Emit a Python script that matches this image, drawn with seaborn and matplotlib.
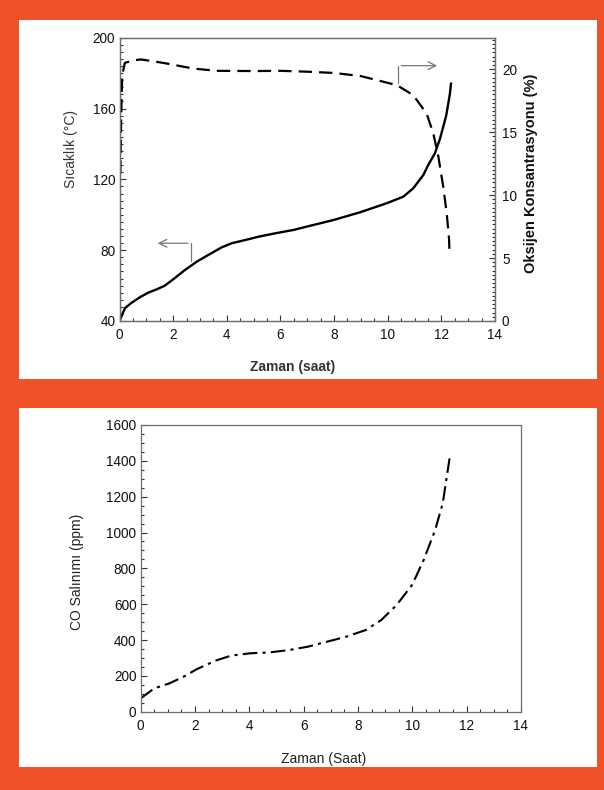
import matplotlib
matplotlib.use("Agg")
import matplotlib.pyplot as plt
from matplotlib.patches import Rectangle
from matplotlib.ticker import MultipleLocator
import seaborn as sns
import numpy as np

# ---- data ----
temp_time = [0, 0.2, 0.45, 0.76, 1.07, 1.39, 1.67, 2.0, 2.44, 2.88, 3.31, 3.81, 4.18,
             4.68, 5.18, 5.8, 6.48, 6.98, 7.97, 8.97, 9.96, 10.58, 10.95, 11.33, 11.51,
             11.76, 11.95, 12.07, 12.18, 12.26, 12.32, 12.36]
temp_vals = [40, 47.2, 50.3, 53.4, 56.0, 57.9, 59.8, 63.5, 68.8, 73.5, 77.3, 81.6, 83.9,
             85.7, 87.6, 89.5, 91.4, 93.3, 97.0, 101.4, 106.5, 110.2, 114.9, 122.5, 128.1,
             134.7, 143.0, 149.7, 156.0, 163.0, 168.5, 174.2]

o2_time = [0.03, 0.06, 0.1, 0.2, 0.5, 0.8, 1.2, 1.76, 2.75, 3.62, 5, 6, 7, 8, 9,
           9.71, 10.34, 10.95, 11.45, 11.7, 11.89, 12.07, 12.2, 12.29, 12.3]
o2_vals = [11.7, 16.0, 19.5, 20.5, 20.7, 20.77, 20.65, 20.45, 20.05, 19.87, 19.85, 19.87,
           19.8, 19.7, 19.45, 19.07, 18.73, 17.94, 16.48, 14.9, 13.04, 10.66, 8.55, 6.43, 5.42]

co_time = [0, 0.5, 1.06, 1.63, 2.05, 2.76, 3.33, 4.04, 4.75, 5.46, 6.16, 6.87, 7.58,
           8.29, 8.86, 9.42, 9.99, 10.42, 10.84, 11.12, 11.38]
co_vals = [74, 130, 158, 199, 236, 285, 313, 326, 331, 344, 363, 391, 419,
           456, 512, 595, 707, 847, 1014, 1163, 1423]

x_ticks = [0, 2, 4, 6, 8, 10, 12, 14]
temp_ticks = [40, 80, 120, 160, 200]
o2_ticks = [0, 5, 10, 15, 20]
co_ticks = [0, 200, 400, 600, 800, 1000, 1200, 1400, 1600]

ORANGE = "#EF5226"

sns.set_style("white")
plt.rcParams["font.family"] = ["Liberation Sans", "DejaVu Sans"]

W, H = 604, 790
fig = plt.figure(figsize=(W / 100, H / 100), dpi=100, facecolor=ORANGE)

def fx(px):
    return px / W

def fy(py):
    return 1 - py / H

# white panels
for top, bot in [(20, 379), (408, 767)]:
    fig.patches.append(Rectangle((fx(19), fy(bot)), fx(597) - fx(19), (bot - top) / H,
                                 transform=fig.transFigure, facecolor="white",
                                 edgecolor="none", zorder=-5))

SPINE = "#6e6e6e"
TXT = "#111111"

def style_axis(ax):
    for s in ax.spines.values():
        s.set_color(SPINE)
        s.set_linewidth(0.9)
    ax.tick_params(which="both", direction="in", colors="#333333", labelcolor=TXT,
                   labelsize=9.8, width=0.8)
    ax.tick_params(which="major", length=4)
    ax.tick_params(which="minor", length=2.5)
    ax.set_facecolor("white")

# ---------------- top chart ----------------
ax1 = fig.add_axes([fx(119.5), fy(321), (495 - 119.5) / W, (321 - 37.7) / H])
style_axis(ax1)
sns.lineplot(x=temp_time, y=temp_vals, ax=ax1, color="black", linewidth=1.7,
             sort=False, estimator=None, solid_joinstyle="round")
ax1.set_xlim(0, 14)
ax1.set_ylim(40, 200)
ax1.set_xticks(x_ticks)
ax1.set_yticks(temp_ticks)
ax1.xaxis.set_minor_locator(MultipleLocator(0.5))
ax1.yaxis.set_minor_locator(MultipleLocator(4))
ax1.tick_params(axis="x", which="both", bottom=True, top=False, pad=5)
ax1.tick_params(axis="y", which="both", left=True, right=False, pad=3)
ax1.set_xlabel("Zaman (saat)", fontsize=10, fontweight="bold", color="#333333")
ax1.xaxis.set_label_coords(0.46, -0.138)
ax1.set_ylabel("Sıcaklık (°C)", fontsize=10, color="#333333")
ax1.yaxis.set_label_coords(-0.1105, 0.607)

ax2 = ax1.twinx()
sns.lineplot(x=o2_time, y=o2_vals, ax=ax2, color="black", linewidth=1.6,
             linestyle=(0, (6, 3.2)), sort=False, estimator=None)
ax2.set_ylim(0, 22.5)
ax2.set_yticks(o2_ticks)
ax2.yaxis.set_minor_locator(MultipleLocator(1 / 3))
for s in ax2.spines.values():
    s.set_color(SPINE)
    s.set_linewidth(0.9)
ax2.tick_params(which="both", direction="in", colors="#333333", labelcolor=TXT,
                labelsize=9.8, width=0.8, pad=5)
ax2.tick_params(which="major", length=4)
ax2.tick_params(which="minor", length=2.5)
ax2.set_ylabel("Oksijen Konsantrasyonu (%)", fontsize=10.5, fontweight="bold",
               color="#111111", rotation=90,
               bbox=dict(facecolor="white", edgecolor="none", pad=1.5))
ax2.yaxis.set_label_coords(1.077, 0.522)

# indicator arrows (gray)
arr = dict(arrowstyle="->", color="#777777", lw=0.9, mutation_scale=14)
ax1.plot([10.4, 10.4], [174.2, 184.2], color="#777777", lw=0.9)
ax1.annotate("", xy=(11.95, 184.2), xytext=(10.4, 184.2), arrowprops=arr)
ax1.plot([2.65, 2.65], [73.9, 83.9], color="#777777", lw=0.9)
ax1.annotate("", xy=(1.32, 83.9), xytext=(2.65, 83.9), arrowprops=arr)

# ---------------- bottom chart ----------------
ax3 = fig.add_axes([fx(140.6), fy(711.7), 380.4 / W, 286.7 / H])
style_axis(ax3)
sns.lineplot(x=co_time, y=co_vals, ax=ax3, color="black", linewidth=1.5,
             linestyle=(0, (7, 2.5, 1.5, 2.5)), sort=False, estimator=None)
ax3.set_xlim(0, 14)
ax3.set_ylim(0, 1600)
ax3.set_xticks(x_ticks)
ax3.set_yticks(co_ticks)
ax3.xaxis.set_minor_locator(MultipleLocator(0.5))
ax3.yaxis.set_minor_locator(MultipleLocator(50))
ax3.tick_params(axis="x", which="both", bottom=True, top=False, pad=5)
ax3.tick_params(axis="y", which="both", left=True, right=False, pad=3)
ax3.set_xlabel("Zaman (Saat)", fontsize=10, color="#222222")
ax3.xaxis.set_label_coords(0.481, -0.1395)
ax3.set_ylabel("CO Salınımı (ppm)", fontsize=10, color="#222222")
ax3.yaxis.set_label_coords(-0.149, 0.488)

fig.savefig("out.png", dpi=100, facecolor=ORANGE)
